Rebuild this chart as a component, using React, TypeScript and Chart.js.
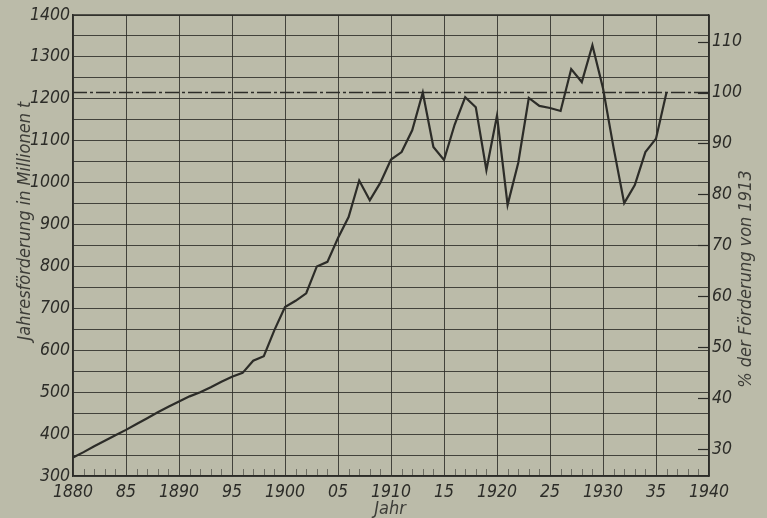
import React, { useEffect, useRef } from "react";
import { Chart, registerables } from "chart.js";

Chart.register(...registerables);

// ---- data ----
const years = [
  1880, 1881, 1882, 1883, 1884, 1885, 1886, 1887, 1888, 1889,
  1890, 1891, 1892, 1893, 1894, 1895, 1896, 1897, 1898, 1899,
  1900, 1901, 1902, 1903, 1904, 1905, 1906, 1907, 1908, 1909,
  1910, 1911, 1912, 1913, 1914, 1915, 1916, 1917, 1918, 1919,
  1920, 1921, 1922, 1923, 1924, 1925, 1926, 1927, 1928, 1929,
  1930, 1931, 1932, 1933, 1934, 1935, 1936,
];
const production = [
  344, 357, 371, 384, 397, 410, 424, 438, 452, 465,
  478, 490, 500, 512, 525, 537, 546, 575, 586, 648,
  703, 718, 736, 800, 811, 868, 918, 1005, 958, 1000,
  1055, 1073, 1125, 1215, 1085, 1054, 1138, 1204, 1180, 1030,
  1160, 947, 1047, 1202, 1183, 1178, 1171, 1271, 1240, 1328,
  1225, 1083, 951, 994, 1073, 1105, 1216,
];
const baseValue = 1215; // production 1913 = 100 %
const xTickValues = [1880, 1885, 1890, 1895, 1900, 1905, 1910, 1915, 1920, 1925, 1930, 1935, 1940];
const xTickLabels = ["1880", "85", "1890", "95", "1900", "05", "1910", "15", "1920", "25", "1930", "35", "1940"];
const leftTicks = [300, 400, 500, 600, 700, 800, 900, 1000, 1100, 1200, 1300, 1400];
const rightTicks = [30, 40, 50, 60, 70, 80, 90, 100, 110];
const leftTitle = "Jahresförderung in Millionen t";
const rightTitle = "% der Förderung von 1913";
const xTitle = "Jahr";

const BG = "#bbbba9";
const INK = "#2c2c28";
const GRID = "rgba(45,45,40,0.85)";
const FONT_FAMILY = "'DejaVu Sans Condensed', 'Liberation Sans Narrow', sans-serif";

export default function App() {
  const ref = useRef<HTMLCanvasElement | null>(null);

  useEffect(() => {
    if (!ref.current) return;
    const yMin = leftTicks[0];
    const yMax = leftTicks[leftTicks.length - 1];

    const decor = {
      id: "decor",
      afterDraw(chart: any) {
        const ctx = chart.ctx;
        const area = chart.chartArea;
        const xs = chart.scales.x;
        const y2 = chart.scales.y2;
        ctx.save();
        // minor year ticks along bottom
        ctx.strokeStyle = "rgba(45,45,40,0.55)";
        ctx.lineWidth = 1;
        for (let yr = xTickValues[0]; yr <= xTickValues[xTickValues.length - 1]; yr++) {
          if (xTickValues.includes(yr)) continue;
          const px = Math.round(xs.getPixelForValue(yr)) + 0.5;
          ctx.beginPath();
          ctx.moveTo(px, area.bottom);
          ctx.lineTo(px, area.bottom - 7);
          ctx.stroke();
        }
        // right axis inner ticks
        ctx.strokeStyle = INK;
        ctx.lineWidth = 1.2;
        for (const t of rightTicks) {
          const py = Math.round(y2.getPixelForValue(t)) + 0.5;
          ctx.beginPath();
          ctx.moveTo(area.right - 11, py);
          ctx.lineTo(area.right, py);
          ctx.stroke();
        }
        // titles
        ctx.fillStyle = "#3d3d38";
        ctx.font = `italic 18px ${FONT_FAMILY}`;
        ctx.textAlign = "center";
        ctx.textBaseline = "middle";
        ctx.save();
        ctx.translate(25, 221);
        ctx.rotate(-Math.PI / 2);
        ctx.fillText(leftTitle, 0, 0);
        ctx.restore();
        ctx.save();
        ctx.translate(746, 279);
        ctx.rotate(-Math.PI / 2);
        ctx.fillText(rightTitle, 0, 0);
        ctx.restore();
        ctx.fillText(xTitle, 390, 509);
        ctx.restore();
      },
    };

    const tickFont = { family: FONT_FAMILY, size: 17.5, style: "italic" };

    const chart = new Chart(ref.current, {
      type: "line",
      data: {
        datasets: [
          {
            data: years.map((yr, i) => ({ x: yr, y: production[i] })),
            borderColor: INK,
            borderWidth: 2.2,
            pointRadius: 0,
            tension: 0,
            yAxisID: "y",
          },
          {
            data: [
              { x: xTickValues[0], y: baseValue },
              { x: xTickValues[xTickValues.length - 1], y: baseValue },
            ],
            borderColor: INK,
            borderWidth: 1.5,
            borderDash: [14, 3, 3, 3],
            pointRadius: 0,
            yAxisID: "y",
          },
        ],
      },
      options: {
        responsive: false,
        animation: false,
        layout: { padding: { top: 15, right: 0, left: 0, bottom: 0 } },
        plugins: { legend: { display: false }, tooltip: { enabled: false } },
        scales: {
          x: {
            type: "linear",
            position: "bottom",
            min: xTickValues[0],
            max: xTickValues[xTickValues.length - 1],
            afterBuildTicks: (s: any) => {
              s.ticks = xTickValues.map((v) => ({ value: v }));
            },
            afterFit: (s: any) => {
              s.height = 42;
            },
            ticks: {
              autoSkip: false,
              maxRotation: 0,
              padding: 6,
              color: INK,
              font: tickFont,
              callback: (v: any) => {
                const i = xTickValues.indexOf(Number(v));
                return i >= 0 ? xTickLabels[i] : "";
              },
            },
            grid: { color: GRID, lineWidth: 1, drawTicks: false },
            border: { display: true, color: INK, width: 1.5 },
          },
          y: {
            type: "linear",
            position: "left",
            min: yMin,
            max: yMax,
            afterBuildTicks: (s: any) => {
              const t: any[] = [];
              for (let i = 0; i < leftTicks.length; i++) {
                t.push({ value: leftTicks[i] });
                if (i < leftTicks.length - 1) t.push({ value: (leftTicks[i] + leftTicks[i + 1]) / 2 });
              }
              s.ticks = t;
            },
            afterFit: (s: any) => {
              s.width = 73;
            },
            ticks: {
              autoSkip: false,
              padding: 3,
              color: INK,
              font: tickFont,
              callback: (v: any) => (leftTicks.includes(Number(v)) ? String(v) : ""),
            },
            grid: { color: GRID, lineWidth: 1, drawTicks: false },
            border: { display: true, color: INK, width: 1.5 },
          },
          y2: {
            type: "linear",
            position: "right",
            min: (yMin / baseValue) * 100,
            max: (yMax / baseValue) * 100,
            afterBuildTicks: (s: any) => {
              s.ticks = rightTicks.map((v) => ({ value: v }));
            },
            afterFit: (s: any) => {
              s.width = 58;
            },
            ticks: {
              autoSkip: false,
              padding: 3,
              color: INK,
              font: tickFont,
              callback: (v: any) => String(v),
            },
            grid: { drawOnChartArea: false, drawTicks: false },
            border: { display: true, color: INK, width: 1.5 },
          },
        },
      },
      plugins: [
        {
          id: "topBorder",
          afterDatasetsDraw(chart: any) {
            const { ctx, chartArea } = chart;
            ctx.save();
            ctx.strokeStyle = INK;
            ctx.lineWidth = 1.5;
            ctx.beginPath();
            ctx.moveTo(chartArea.left, chartArea.top);
            ctx.lineTo(chartArea.right, chartArea.top);
            ctx.stroke();
            ctx.restore();
          },
        },
        decor,
      ],
    } as any);

    return () => chart.destroy();
  }, []);

  return (
    <div style={{ position: "fixed", left: 0, top: 0, width: 767, height: 518, background: BG }}>
      <canvas ref={ref} width={767} height={518} style={{ display: "block" }} />
    </div>
  );
}
